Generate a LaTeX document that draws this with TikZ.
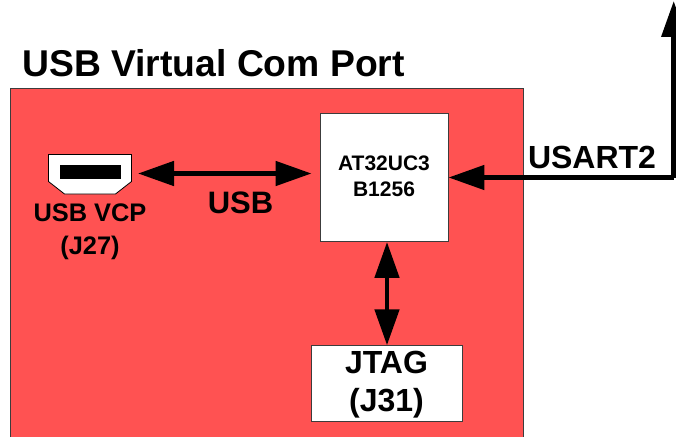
\documentclass[tikz,border=0pt]{standalone}
\usepackage{fontspec}
\setmainfont{Liberation Sans}
\usetikzlibrary{arrows.meta}
\definecolor{boardred}{RGB}{255,82,82}
\definecolor{edgegray}{RGB}{60,60,60}
\tikzset{
  board/.style={draw=edgegray,line width=0.9pt,fill=boardred},
  whitebox/.style={draw=edgegray,line width=0.9pt,fill=white,inner sep=0pt,align=center},
  lbl/.style={inner sep=0pt,align=center},
  bus/.style={line width=4.8pt,draw=black,-{Triangle[length=36pt,width=24pt]}},
  bibus/.style={line width=4.8pt,draw=black,{Triangle[length=36pt,width=24pt]}-{Triangle[length=36pt,width=24pt]}}
}
\begin{document}
\begin{tikzpicture}[x=1pt,y=-1pt]
\useasboundingbox (0,0) rectangle (676,436);
\draw[board] (10,88.5) rectangle (523.5,440);
\node[lbl,font=\bfseries\fontsize{37.3}{40}\selectfont,anchor=base west] (title) at (22,76) {USB Virtual Com Port};
\node[whitebox,minimum width=128pt,minimum height=128pt] (mcu) at (384,177.5) {};
\node[lbl,font=\bfseries\fontsize{21}{26}\selectfont] (mculabel) at (384,176.5) {AT32UC3\\B1256};
\node[whitebox,minimum width=150.5pt,minimum height=75.5pt] (jtag) at (387,383.5) {};
\node[lbl,font=\bfseries\fontsize{32}{38}\selectfont] (jtaglabel) at (386.5,384.5) {JTAG\\(J31)};
\draw[draw=black,line width=0.8pt,fill=white] (48.5,154.5) -- (131.5,154.5) -- (131.5,181.5) -- (115.5,194) -- (64.5,194) -- (48.5,181.5) -- cycle;
\fill[black] (60,165) rectangle (120.5,179.3);
\coordinate (usbport) at (138,173.5);
\coordinate (usartup) at (673.7,1);
\coordinate (usartcorner) at (673.7,177.5);
\node[lbl,font=\bfseries\fontsize{25.4}{33}\selectfont] (vcp) at (90,231.5) {USB VCP\\(J27)};
\node[lbl,font=\bfseries\fontsize{31}{34}\selectfont,anchor=base] (usb) at (240.5,213) {USB};
\node[lbl,font=\bfseries\fontsize{32}{34}\selectfont,anchor=base] (usart) at (592,168) {USART2};
\draw[bibus,shorten >=8pt] (usbport) -- (mcu.west |- usbport);
\draw[bibus] (mcu.south -| jtag.north) -- (jtag.north);
\draw[bus] (usartcorner) -- (mcu.east |- usartcorner);
\draw[bus] (usartcorner) -- (usartup);
\end{tikzpicture}
\end{document}
